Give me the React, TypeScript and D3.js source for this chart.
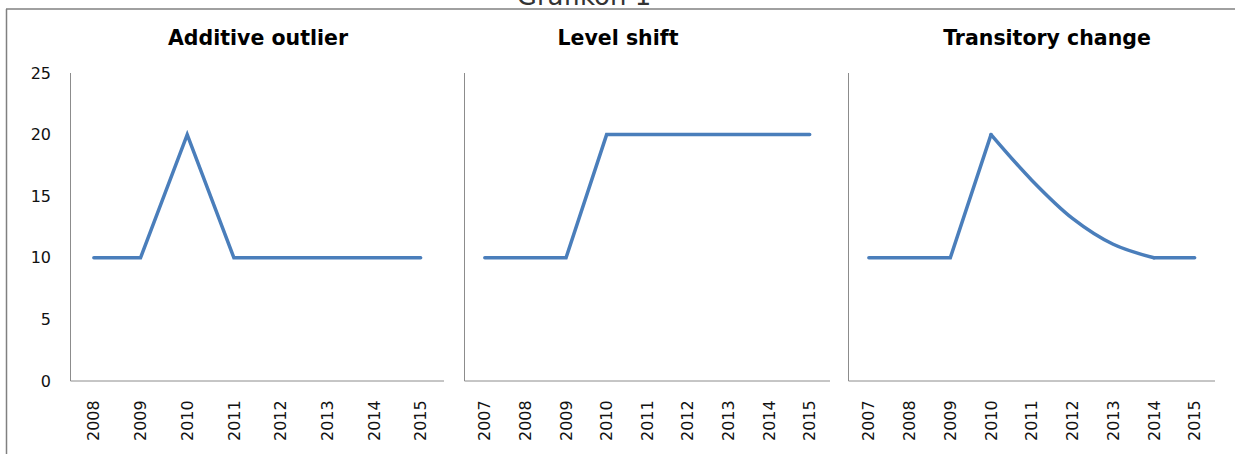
import React from "react";
import * as d3 from "d3";

const titles = ["Additive outlier", "Level shift", "Transitory change"];
const yearsAO = ["2008", "2009", "2010", "2011", "2012", "2013", "2014", "2015"];
const yearsLS = ["2007", "2008", "2009", "2010", "2011", "2012", "2013", "2014", "2015"];
const yearsTC = ["2007", "2008", "2009", "2010", "2011", "2012", "2013", "2014", "2015"];
const valuesAO = [10, 10, 20, 10, 10, 10, 10, 10];
const valuesLS = [10, 10, 10, 20, 20, 20, 20, 20, 20];
const valuesTC = [10, 10, 10, 20, 16.3, 13.2, 11.1, 10, 10];
const yTicks = [0, 5, 10, 15, 20, 25];

const W = 1235;
const H = 454;
const TOP = 73;
const BOTTOM = 381;
const LINE = "#4a7ebb";
const AXIS = "#8c8c8c";
const FONT = "'DejaVu Sans', Verdana, sans-serif";

type PanelProps = {
  title: string;
  titleX: number;
  years: string[];
  values: number[];
  x0: number;
  x1: number;
  showY: boolean;
  smoothFrom?: number;
};

function Panel({ title, titleX, years, values, x0, x1, showY, smoothFrom }: PanelProps) {
  const x = d3.scaleBand<string>().domain(years).range([x0, x1]).padding(0);
  const y = d3.scaleLinear().domain([0, 25]).range([BOTTOM, TOP]);
  const cx = (d: string) => (x(d) as number) + x.bandwidth() / 2;
  const pts: [number, number][] = years.map((yr, i) => [cx(yr), y(values[i])]);
  const lin = d3.line<[number, number]>().curve(d3.curveLinear);
  let paths: string[] = [];
  if (smoothFrom !== undefined) {
    const peak = smoothFrom;
    let end = peak + 1;
    while (end < values.length - 1 && values[end] > values[end + 1]) end++;
    const smooth = d3.line<[number, number]>().curve(d3.curveCatmullRom.alpha(0.5));
    paths.push(lin(pts.slice(0, peak + 1)) as string);
    paths.push(smooth(pts.slice(peak, end + 1)) as string);
    paths.push(lin(pts.slice(end)) as string);
  } else {
    paths.push(lin(pts) as string);
  }
  return (
    <g>
      <text
        x={titleX}
        y={45}
        textAnchor="middle"
        fontFamily={FONT}
        fontWeight="bold"
        fontSize={20.5}
        fill="#000"
      >
        {title}
      </text>
      <line x1={x0} x2={x0} y1={TOP} y2={BOTTOM} stroke={AXIS} strokeWidth={1} />
      <line x1={x0} x2={x1} y1={BOTTOM} y2={BOTTOM} stroke={AXIS} strokeWidth={1} />
      {showY &&
        yTicks.map((t) => (
          <text
            key={t}
            x={51}
            y={y(t)}
            dy="0.35em"
            textAnchor="end"
            fontFamily={FONT}
            fontSize={16}
            fill="#111"
          >
            {t}
          </text>
        ))}
      {years.map((yr) => (
        <text
          key={yr}
          transform={`translate(${cx(yr)},${441}) rotate(-90)`}
          dy="0.35em"
          textAnchor="start"
          fontFamily={FONT}
          fontSize={16}
          fill="#111"
        >
          {yr}
        </text>
      ))}
      {paths.map((p, i) => (
        <path
          key={i}
          d={p}
          fill="none"
          stroke={LINE}
          strokeWidth={3.5}
          strokeLinejoin="miter"
          strokeLinecap="round"
        />
      ))}
    </g>
  );
}

export default function App() {
  return (
    <svg
      width={W}
      height={H}
      style={{ position: "absolute", left: 0, top: 0, background: "#fff" }}
    >
      <rect x={0} y={0} width={W} height={H} fill="#fff" />
      <text
        x={584}
        y={5}
        textAnchor="middle"
        fontFamily={FONT}
        fontSize={26}
        fill="#333"
      >
        Grafikon 1
      </text>
      <line x1={6} x2={W} y1={9} y2={9} stroke="#808080" strokeWidth={1.5} />
      <line x1={6.5} x2={6.5} y1={9} y2={H} stroke="#808080" strokeWidth={1.5} />
      <Panel title={titles[0]} titleX={258} years={yearsAO} values={valuesAO} x0={70.5} x1={444} showY={true} />
      <Panel title={titles[1]} titleX={618} years={yearsLS} values={valuesLS} x0={464.5} x1={830} showY={false} />
      <Panel
        title={titles[2]}
        titleX={1047}
        years={yearsTC}
        values={valuesTC}
        x0={848.5}
        x1={1215}
        showY={false}
        smoothFrom={3}
      />
    </svg>
  );
}
